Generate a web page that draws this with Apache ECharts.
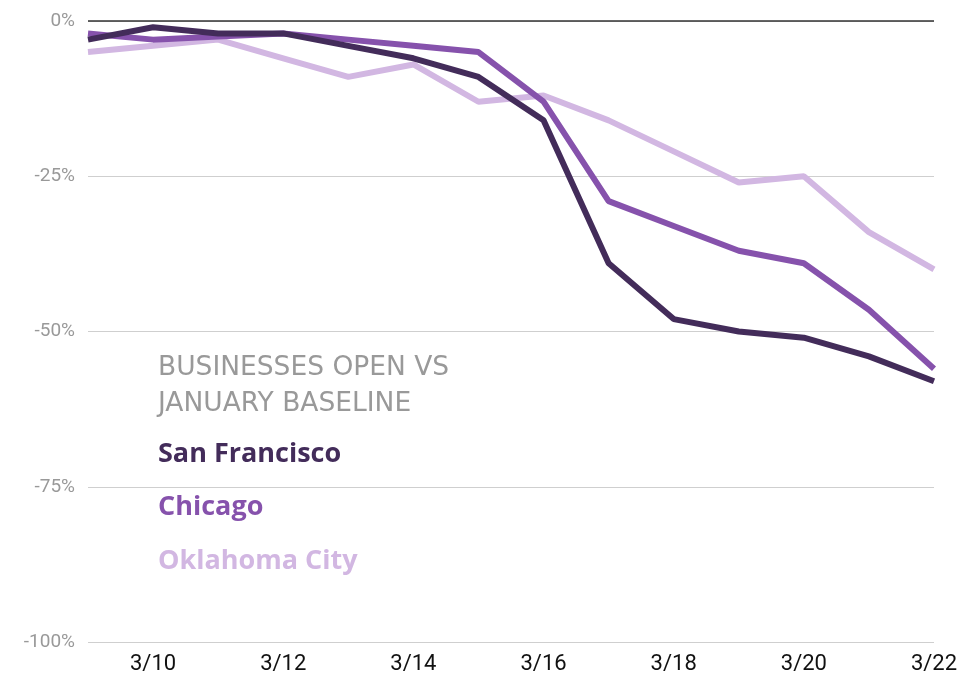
<!DOCTYPE html>
<html><head><meta charset="utf-8">
<script src="https://cdn.jsdelivr.net/npm/echarts@6/dist/echarts.min.js"></script>
<style>html,body{margin:0;padding:0;background:#fff}#c{width:961px;height:675px}</style>
</head><body><div id="c"></div>
<script>
var categories = ['3/9','3/10','3/11','3/12','3/13','3/14','3/15','3/16','3/17','3/18','3/19','3/20','3/21','3/22'];
var sanFrancisco = [-3,-1,-2,-2,-4,-6,-9,-16,-39,-48,-50,-51,-54,-58];
var chicago = [-2,-3,-2.5,-2,-3,-4,-5,-13,-29,-33,-37,-39,-46.5,-56];
var oklahomaCity = [-5,-4,-3,-6,-9,-7,-13,-12,-16,-21,-26,-25,-34,-40];
var yTicks = [-100,-75,-50,-25,0];
var colors = {sf:'#432c5a', chi:'#8652ac', okc:'#d2b7e2'};
var FONT = 'Open Sans';

var chart = echarts.init(document.getElementById('c'));
function mk(name, data, color, z){
  return {name:name, type:'line', data:data, symbol:'none', z:z,
    lineStyle:{width:6, color:color}, itemStyle:{color:color}};
}
var s = [
  mk('San Francisco', sanFrancisco, colors.sf, 5),
  mk('Chicago', chicago, colors.chi, 4),
  mk('Oklahoma City', oklahomaCity, colors.okc, 3)
];
s[2].markLine = {silent:true, symbol:'none', label:{show:false}, lineStyle:{color:'#333', width:1.5, type:'solid'}, data:[{yAxis:0}], z:1};
chart.setOption({
  animation:false,
  textStyle:{fontFamily:FONT},
  grid:{left:88, right:27, top:21, bottom:33, containLabel:false},
  title:{text:'BUSINESSES OPEN VS\nJANUARY BASELINE', left:153, top:345,
    textStyle:{color:'#999', fontSize:26.5, fontWeight:'normal', lineHeight:36, fontFamily:'DejaVu Sans'}},
  legend:{orient:'vertical', left:148, top:434, icon:'none', itemGap:25, itemWidth:0, itemHeight:30,
    data:[
      {name:'San Francisco', textStyle:{color:colors.sf}},
      {name:'Chicago', textStyle:{color:colors.chi}},
      {name:'Oklahoma City', textStyle:{color:colors.okc}}
    ],
    textStyle:{fontSize:27, fontWeight:'bold', fontFamily:FONT}, selectedMode:false},
  xAxis:{type:'category', data:categories, boundaryGap:false,
    axisLine:{show:false}, axisTick:{show:false},
    axisLabel:{color:'#111', fontSize:22, margin:11, interval:0, fontFamily:'Roboto',
      formatter:function(v,i){return i%2===1 ? v : '';}}},
  yAxis:{type:'value', min:-100, max:0, interval:25,
    axisLine:{show:false}, axisTick:{show:false},
    axisLabel:{color:'#999', fontSize:19, margin:13, fontFamily:'Roboto', formatter:function(v){return v+'%';}},
    splitLine:{lineStyle:{color:'#cfcfcf', width:1}}},
  series:s
});
</script></body></html>
